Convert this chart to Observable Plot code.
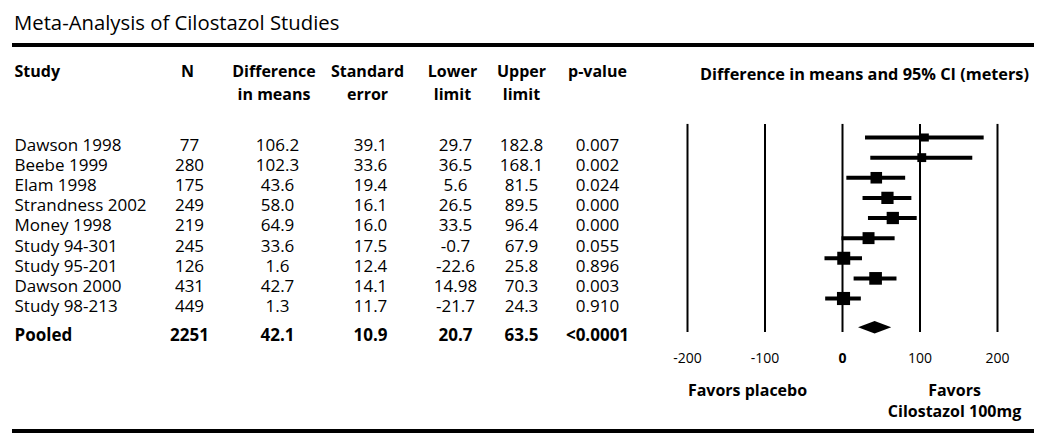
<!DOCTYPE html>
<html>
<head>
<meta charset="utf-8">
<script src="https://cdn.jsdelivr.net/npm/d3@7"></script>
<script src="https://cdn.jsdelivr.net/npm/@observablehq/plot@0.6"></script>
<style>
  html, body { margin: 0; padding: 0; background: #fff; }
  body { width: 1050px; height: 445px; position: relative; overflow: hidden; font-family: "Open Sans", sans-serif; }
  #title { position: absolute; left: 14px; top: 12px; font-size: 20.3px; line-height: 1; color: #000; white-space: nowrap; }
  .rule { position: absolute; left: 12px; width: 1022px; height: 4px; background: #000; }
  .layer { position: absolute; left: 0; top: 0; }
</style>
</head>
<body>
<div id="table" class="layer"></div>
<div id="forest" class="layer"></div>
<div id="title">Meta-Analysis of Cilostazol Studies</div>
<div class="rule" style="top:43px"></div>
<div class="rule" style="top:429px"></div>
<script>
// ---- data ----
const studies = ["Dawson 1998", "Beebe 1999", "Elam 1998", "Strandness 2002", "Money 1998",
                 "Study 94-301", "Study 95-201", "Dawson 2000", "Study 98-213"];
const nValues = [77, 280, 175, 249, 219, 245, 126, 431, 449];
const diffMeans = [106.2, 102.3, 43.6, 58.0, 64.9, 33.6, 1.6, 42.7, 1.3];
const stdErrors = [39.1, 33.6, 19.4, 16.1, 16.0, 17.5, 12.4, 14.1, 11.7];
const lowerLimits = [29.7, 36.5, 5.6, 26.5, 33.5, -0.7, -22.6, 14.98, -21.7];
const upperLimits = [182.8, 168.1, 81.5, 89.5, 96.4, 67.9, 25.8, 70.3, 24.3];
const pValues = ["0.007", "0.002", "0.024", "0.000", "0.000", "0.055", "0.896", "0.003", "0.910"];

const pooledLabel = "Pooled";
const pooledN = 2251;
const pooledDiff = 42.1;
const pooledSE = 10.9;
const pooledLower = 20.7;
const pooledUpper = 63.5;
const pooledP = "<0.0001";

const xTicks = [-200, -100, 0, 100, 200];
const headerLine1 = ["Study", "N", "Difference", "Standard", "Lower", "Upper", "p-value"];
const headerLine2 = ["", "", "in means", "error", "limit", "limit", ""];
const plotTitle = "Difference in means and 95% CI (meters)";
const favorsLeft = "Favors placebo";
const favorsRight = ["Favors", "Cilostazol 100mg"];
const tau2 = 700; // between-study variance used for random-effects box weights

// ---- records built from the arrays ----
const rows = studies.map((s, i) => ({
  row: i, study: s, n: String(nValues[i]), diff: diffMeans[i].toFixed(1), se: stdErrors[i].toFixed(1),
  lower: String(lowerLimits[i]), upper: String(upperLimits[i]), p: pValues[i],
  est: diffMeans[i], lo: lowerLimits[i], hi: upperLimits[i],
  w: 1 / (stdErrors[i] * stdErrors[i] + tau2)
}));
const pooledRow = 9.45;
const pooled = [{row: pooledRow, study: pooledLabel, n: String(pooledN), diff: pooledDiff.toFixed(1),
  se: pooledSE.toFixed(1), lower: String(pooledLower), upper: String(pooledUpper), p: pooledP}];
const diamond = [
  {x: pooledLower, y1: pooledRow, y2: pooledRow},
  {x: pooledDiff, y1: pooledRow - 0.31, y2: pooledRow + 0.31},
  {x: pooledUpper, y1: pooledRow, y2: pooledRow}
];

// ---- layout (pixels / row units) ----
const FONT = "Open Sans";
const colKeys = ["study", "n", "diff", "se", "lower", "upper", "p"];
const colX = [14, 189, 277, 370, 455, 521, 597];
const headX = [14, 187, 273.5, 367, 452, 521, 597];
const headRow1 = -3.65, headRow2 = -2.51;
const forestHeadX = 864, forestHeadRow = -3.5;
const favorsLeftX = 747, favorsRightX = 954, favorsRow1 = 12.17, favorsRow2 = 13.24;

// ---- table layer ----
const tMarks = [];
colKeys.forEach((k, j) => {
  const anchor = j === 0 ? "start" : "middle";
  tMarks.push(Plot.text(rows, {x: () => colX[j], y: "row", text: k,
    textAnchor: anchor, fontSize: 17, fill: "black"}));
  tMarks.push(Plot.text(pooled, {x: () => colX[j], y: "row", text: k,
    textAnchor: anchor, fontSize: 17, fontWeight: "bold", fill: "black"}));
});
const headers = headerLine1.map((t, j) => ({t, x: headX[j], row: headRow1, a: j === 0 ? "start" : "middle"}))
  .concat(headerLine2.map((t, j) => ({t, x: headX[j], row: headRow2, a: "middle"})).filter(d => d.t));
tMarks.push(Plot.text(headers.filter(d => d.a === "start"), {x: "x", y: "row", text: "t", textAnchor: "start",
  fontSize: 16, fontWeight: "bold", fill: "black"}));
tMarks.push(Plot.text(headers.filter(d => d.a === "middle"), {x: "x", y: "row", text: "t", textAnchor: "middle",
  fontSize: 16, fontWeight: "bold", fill: "black"}));
tMarks.push(Plot.text([{t: plotTitle, x: forestHeadX, row: forestHeadRow}], {x: "x", y: "row", text: "t",
  textAnchor: "middle", fontSize: 16.3, fontWeight: "bold", fill: "black"}));
tMarks.push(Plot.text([
  {t: favorsLeft, x: favorsLeftX, row: favorsRow1},
  {t: favorsRight[0], x: favorsRightX, row: favorsRow1},
  {t: favorsRight[1], x: favorsRightX, row: favorsRow2}
], {x: "x", y: "row", text: "t", textAnchor: "middle", fontSize: 16, fontWeight: "bold", fill: "black"}));

const tableChart = Plot.plot({
  width: 1050, height: 445,
  margin: 0,
  style: {fontFamily: FONT, background: "transparent", color: "black"},
  x: {type: "identity"},
  y: {domain: [0, 8], range: [145, 306]},
  axis: null,
  marks: tMarks
});
document.getElementById("table").appendChild(tableChart);

// ---- forest layer ----
const forestChart = Plot.plot({
  width: 1050, height: 445,
  marginLeft: 0, marginRight: 0, marginTop: 0, marginBottom: 100,
  style: {fontFamily: FONT, background: "transparent", color: "black"},
  x: {domain: [-200, 200], range: [687, 997]},
  y: {domain: [0, 8], range: [137, 298], axis: null},
  r: {type: "sqrt", domain: [0, 0.001], range: [0, 6.77]},
  marks: [
    Plot.ruleX(xTicks, {y1: -0.65, y2: 9.69, stroke: "black", strokeWidth: 2}),
    Plot.ruleY(rows, {y: "row", x1: "lo", x2: "hi", stroke: "black", strokeWidth: 4}),
    Plot.dot(rows, {x: "est", y: "row", r: "w", symbol: "square", fill: "black", stroke: null}),
    Plot.areaY(diamond, {x: "x", y1: "y1", y2: "y2", fill: "black"}),
    Plot.axisX(xTicks.filter(t => t !== 0), {anchor: "bottom", tickSize: 0, tickPadding: 8, fontSize: 14,
      fill: "black", label: null, tickFormat: d => String(d)}),
    Plot.axisX([0], {anchor: "bottom", tickSize: 0, tickPadding: 8, fontSize: 14, fontWeight: "bold",
      fill: "black", label: null, tickFormat: d => String(d)})
  ]
});
document.getElementById("forest").appendChild(forestChart);
</script>
</body>
</html>
